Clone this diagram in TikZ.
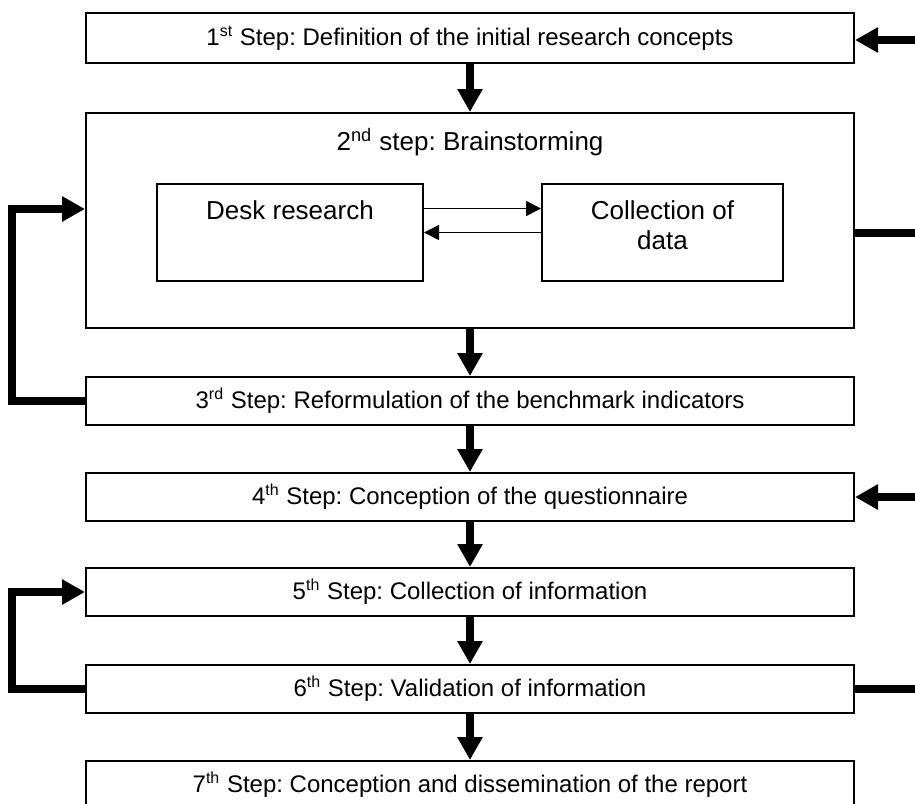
\documentclass[tikz,border=0pt]{standalone}
\usepackage{fontspec}
\setmainfont{Liberation Sans}
\usetikzlibrary{arrows.meta, positioning}
\frenchspacing

\begin{document}
\begin{tikzpicture}[
    x=0.5pt, y=-0.5pt,
    stepbox/.style={rectangle, draw, line width=1pt, minimum width=384pt, minimum height=24pt, inner sep=0pt, align=center, font=\fontsize{12}{14}\selectfont},
    bigbox/.style={rectangle, draw, line width=1pt, minimum width=384pt, minimum height=107.5pt, inner sep=0pt},
    inbox/.style={rectangle, draw, line width=1pt, minimum height=48.5pt, inner sep=0pt},
    intext/.style={align=center, inner sep=0pt, font=\fontsize{13}{15}\selectfont},
    bigarrow/.style={-{Triangle[length=11.5pt,width=12pt]}, line width=3.8pt},
    bigline/.style={line width=3.8pt},
    thinarrow/.style={-{Triangle[length=7.5pt,width=7.5pt]}, line width=0.8pt}
]
    \useasboundingbox (0,0) rectangle (915,803);

    % Steps
    \node[stepbox, minimum height=25pt] (s1) at (470,38) {1\textsuperscript{st} Step: Definition of the initial research concepts};
    \node[bigbox] (s2) at (470,220.5) {};
    \node[intext, below=8pt of s2.north] (s2title) {2\textsuperscript{nd} step: Brainstorming};
    \node[stepbox] (s3) at (470,401) {3\textsuperscript{rd} Step: Reformulation of the benchmark indicators};
    \node[stepbox] (s4) at (470,497) {4\textsuperscript{th} Step: Conception of the questionnaire};
    \node[stepbox] (s5) at (470,592) {5\textsuperscript{th} Step: Collection of information};
    \node[stepbox] (s6) at (470,689) {6\textsuperscript{th} Step: Validation of information};
    \node[stepbox] (s7) at (470,785) {7\textsuperscript{th} Step: Conception and dissemination of the report};

    % Brainstorming inner boxes
    \node[inbox, minimum width=133pt] (desk) at (290,232.5) {};
    \node[intext, below=8.5pt of desk.north] (desktxt) {Desk research};
    \node[inbox, minimum width=120.5pt] (coll) at (662.5,232.5) {};
    \node[intext, below=8.5pt of coll.north] (colltxt) {Collection of\\data};

    \draw[thinarrow] ([yshift=12pt]desk.east) -- ([yshift=12pt]coll.west);
    \draw[thinarrow] (coll.west) -- (desk.east);

    % Main flow
    \foreach \a/\b in {s1/s2, s2/s3, s3/s4, s4/s5, s5/s6, s6/s7}
        \draw[bigarrow] (\a.south) -- (\b.north);

    % Loops on the left
    \draw[bigarrow] (s3.west) -- ++(-73,0) |- ([yshift=5.75pt]s2.west);
    \draw[bigarrow] (s6.west) -- ++(-73,0) |- (s5.west);

    % Links on the right
    \coordinate (r1) at (915,40);
    \coordinate (r2) at (915,233);
    \coordinate (r4) at (915,497);
    \coordinate (r6) at (915,689);
    \draw[bigarrow] (r1) -- (r1 -| s1.east);
    \draw[bigline] (r2 -| s2.east) -- (r2);
    \draw[bigarrow] (r4) -- (r4 -| s4.east);
    \draw[bigline] (r6 -| s6.east) -- (r6);

\end{tikzpicture}
\end{document}
